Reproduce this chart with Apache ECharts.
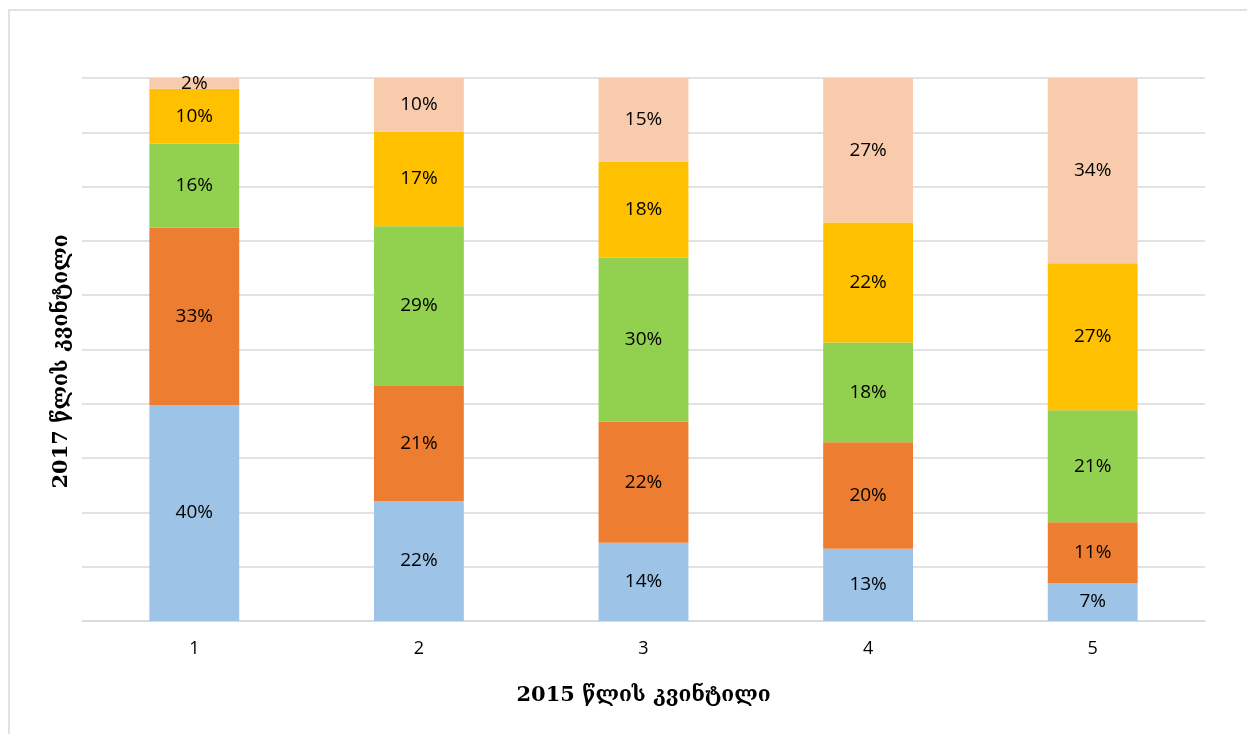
<!DOCTYPE html>
<html><head><meta charset="utf-8">
<script src="https://cdn.jsdelivr.net/npm/echarts@6/dist/echarts.min.js"></script>
<style>html,body{margin:0;padding:0;background:#fff}#c{width:1247px;height:734px}</style>
</head><body><div id="c"></div>
<script>
var categories = ['1','2','3','4','5'];
var quint1 = [39.8, 22.1, 14.4, 13.3, 7.0];
var quint2 = [32.6, 21.2, 22.3, 19.6, 11.2];
var quint3 = [15.5, 29.4, 30.2, 18.4, 20.6];
var quint4 = [10.1, 17.4, 17.7, 22.1, 27.1];
var quint5 = [2.0, 9.9, 15.4, 26.6, 34.1];
var seriesData = [quint1, quint2, quint3, quint4, quint5];
var colors = ['#9DC3E6', '#ED7D31', '#92D050', '#FFC000', '#F8CBAD'];
var xTitle = '2015 წლის კვინტილი';
var yTitle = '2017 წლის კვინტილი';

var chart = echarts.init(document.getElementById('c'));
chart.setOption({
  animation: false,
  graphic: [{type:'rect', shape:{x:9, y:10, width:1260, height:760}, style:{fill:'none', stroke:'#d9d9d9', lineWidth:1.5}, z:-1}],
  grid: {left: 82, right: 42, top: 78, bottom: 113},
  xAxis: {
    type: 'category', data: categories,
    axisLine: {lineStyle: {color: '#d9d9d9', width: 1.5}},
    axisTick: {show: false},
    axisLabel: {color: '#000', fontSize: 18, fontFamily: 'Open Sans', margin: 19},
    name: xTitle, nameLocation: 'middle', nameGap: 64,
    nameTextStyle: {color: '#000', fontSize: 21, fontWeight: 'bold', fontFamily: 'DejaVu Serif'}
  },
  yAxis: {
    type: 'value', min: 0, max: 100, interval: 10,
    axisLabel: {show: false}, axisLine: {show: false}, axisTick: {show: false},
    splitLine: {lineStyle: {color: '#d9d9d9', width: 1.5}},
    name: yTitle, nameLocation: 'middle', nameGap: 10, nameRotate: 90,
    nameTextStyle: {color: '#000', fontSize: 21, fontWeight: 'bold', fontFamily: 'DejaVu Serif', padding: [0,24,0,0]}
  },
  series: seriesData.map(function(d, i){
    return {
      type: 'bar', stack: 'all', data: d, barWidth: '40%',
      itemStyle: {color: colors[i]},
      label: {show: true, position: 'inside', color: '#000', fontSize: 19, fontFamily: 'Open Sans',
        formatter: function(p){ return Math.round(p.value) + '%'; }}
    };
  })
});
</script></body></html>
